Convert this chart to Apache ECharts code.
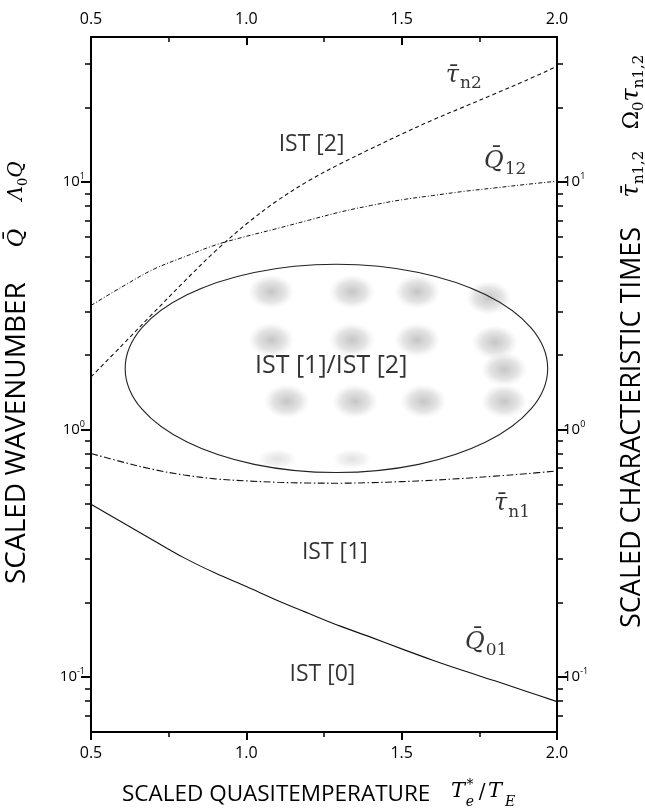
<!DOCTYPE html>
<html>
<head>
<meta charset="utf-8">
<title>IST regimes</title>
<script src="https://cdn.jsdelivr.net/npm/echarts@6/dist/echarts.min.js"></script>
<style>
html,body{margin:0;padding:0;background:#fff;}
#chart{width:645px;height:812px;}
</style>
</head>
<body>
<div id="chart"></div>
<script>
// scaled quasitemperature grid
const temps = [0.5, 0.6, 0.7, 0.8, 0.9, 1.0, 1.1, 1.2, 1.3, 1.4, 1.5, 1.6, 1.7, 1.8, 1.9, 2.0]
// curves
const q01 = [0.499, 0.422, 0.357, 0.303, 0.263, 0.232, 0.204, 0.181, 0.161, 0.145, 0.130, 0.117, 0.106, 0.0966, 0.0877, 0.0796]
const tauN1 = [0.80, 0.74, 0.69, 0.655, 0.632, 0.62, 0.612, 0.608, 0.607, 0.61, 0.616, 0.624, 0.635, 0.648, 0.663, 0.68]
const q12 = [3.17, 3.77, 4.43, 4.98, 5.56, 6.03, 6.49, 7.0, 7.55, 8.03, 8.47, 8.81, 9.16, 9.46, 9.77, 10.07]
const tauN2 = [1.63, 2.19, 2.95, 3.96, 5.25, 6.76, 8.41, 10.1, 11.8, 13.6, 15.6, 17.8, 20.1, 22.7, 25.7, 29.3]
// IST[1]/IST[2] overlap ellipse extents
const ellipseT = [0.61, 1.97]
const ellipseQ = [0.67, 4.65]
// grey stipple blobs inside the ellipse
const blobT = [1.08, 1.34, 1.55, 1.78, 1.08, 1.34, 1.55, 1.80, 1.83, 1.13, 1.35, 1.57, 1.83]
const blobQ = [3.6, 3.6, 3.6, 3.4, 2.3, 2.3, 2.3, 2.25, 1.75, 1.3, 1.3, 1.3, 1.3]
const faintT = [1.10, 1.34]
const faintQ = [0.76, 0.76]
// ticks
const tempTicks = [0.5, 1.0, 1.5, 2.0]
const majorQ = [0.1, 1, 10]
const minorQ = [0.07, 0.08, 0.09, 0.2, 0.3, 0.4, 0.5, 0.6, 0.7, 0.8, 0.9, 2, 3, 4, 5, 6, 7, 8, 9, 20, 30]
// region annotations
const regionNames = ['IST [2]', 'IST [1]/IST [2]', 'IST [1]', 'IST [0]']
const regionT = [1.21, 1.273, 1.285, 1.245]
const regionQ = [14.2, 1.80, 0.318, 0.102]
// curve annotations
const curveNames = ['{m|τ̄}{s|n2}', '{m|Q̄}{s|12}', '{m|τ̄}{s|n1}', '{m|Q̄}{s|01}']
const curveT = [1.70, 1.833, 1.855, 1.772]
const curveQ = [26.9, 12.1, 0.50, 0.138]

const domId = 'chart'
let chart
let option = {}

const sans = '"Open Sans"'
const serif = '"DejaVu Serif"'
const mathRich = {
  m: {fontFamily: serif, fontStyle: 'italic', fontSize: 24, lineHeight: 34, color: '#000', verticalAlign: 'middle'},
  s: {fontFamily: serif, fontSize: 17, lineHeight: 17, color: '#000', verticalAlign: 'bottom', padding: [0, 0, 0, 1]}
}
const powRich = {
  b: {fontFamily: sans, fontSize: 15, lineHeight: 20, color: '#000', verticalAlign: 'middle'},
  e: {fontFamily: sans, fontSize: 9, lineHeight: 10, color: '#000', verticalAlign: 'top'}
}

function zip(xs, ys){
  return xs.map((x, i) => [x, ys[i]])
}

function powLabel(v){
  const e = Math.round(Math.log10(v))
  return '{b|10}{e|' + e + '}'
}

function yAxisPair(pos){
  return [
    {
      type: 'log', logBase: 10, position: pos, min: 0.06, max: 38.5,
      axisLine: {show: true, lineStyle: {color: '#000', width: 2}},
      axisTick: {show: true, inside: false, length: 10, customValues: majorQ, lineStyle: {color: '#000', width: 2}},
      axisLabel: {show: true, customValues: majorQ, formatter: powLabel, rich: powRich, margin: 6},
      splitLine: {show: false}
    },
    {
      type: 'log', logBase: 10, position: pos, min: 0.06, max: 38.5,
      axisLine: {show: false},
      axisTick: {show: true, inside: false, length: 6, customValues: minorQ, lineStyle: {color: '#000', width: 1.5}},
      axisLabel: {show: false},
      splitLine: {show: false}
    }
  ]
}

function xAxisOf(pos){
  return {
    type: 'value', position: pos, min: 0.5, max: 2.0, interval: 0.5,
    axisLine: {show: true, lineStyle: {color: '#000', width: 2}},
    axisTick: {show: true, inside: pos === 'top', length: 8, lineStyle: {color: '#000', width: 2}},
    minorTick: {show: true, splitNumber: 2, length: 5, lineStyle: {color: '#000', width: 1.5}},
    axisLabel: {
      show: true, margin: pos === 'top' ? 10 : 13, fontFamily: sans, fontSize: 16, color: '#000',
      formatter: v => tempTicks.includes(v) ? v.toFixed(1) : ''
    },
    splitLine: {show: false}
  }
}

function curve(values, dash, width){
  return {
    type: 'line', data: zip(temps, values), symbol: 'none', smooth: 0.35, silent: true, z: 4,
    lineStyle: {color: '#111', width: width, type: dash}
  }
}

// ellipse drawn from its data extents
function renderEllipse(params, api){
  const t0 = api.value(0), t1 = api.value(1), q0 = api.value(2), q1 = api.value(3)
  const tMid = (t0 + t1) / 2
  const qMid = Math.sqrt(q0 * q1)
  const pl = api.coord([t0, qMid])
  const pr = api.coord([t1, qMid])
  const pt = api.coord([tMid, q1])
  const pb = api.coord([tMid, q0])
  return {
    type: 'ellipse',
    shape: {cx: (pl[0] + pr[0]) / 2, cy: (pt[1] + pb[1]) / 2, rx: (pr[0] - pl[0]) / 2, ry: (pb[1] - pt[1]) / 2},
    style: {fill: 'none', stroke: '#222', lineWidth: 1.1}
  }
}

function blobColor(alpha){
  return new echarts.graphic.RadialGradient(0.5, 0.5, 0.5, [
    {offset: 0, color: 'rgba(110,110,110,' + alpha + ')'},
    {offset: 0.6, color: 'rgba(140,140,140,' + (alpha * 0.6) + ')'},
    {offset: 1, color: 'rgba(180,180,180,0)'}
  ])
}

function textEl(x, y, text, style, rotate){
  return {
    type: 'text', x: x, y: y, rotation: rotate ? Math.PI / 2 : 0, silent: true,
    style: Object.assign({text: text, fill: '#000', textAlign: 'center', textVerticalAlign: 'middle'}, style)
  }
}

function getOption(){
  const italic = {fontFamily: serif, fontStyle: 'italic', fontSize: 21}
  const small = {fontFamily: serif, fontSize: 14}
  const vRich = {
    o: {fontFamily: serif, fontSize: 22, lineHeight: 30, verticalAlign: 'middle', fill: '#000'},
    m: {fontFamily: serif, fontStyle: 'italic', fontSize: 24, lineHeight: 30, verticalAlign: 'middle', fill: '#000'},
    s: {fontFamily: serif, fontSize: 15, lineHeight: 15, verticalAlign: 'bottom', fill: '#000'}
  }
  option = {
    animation: false,
    backgroundColor: '#fff',
    grid: {left: 91, right: 88, top: 37, bottom: 80},
    xAxis: [xAxisOf('bottom'), xAxisOf('top')],
    yAxis: yAxisPair('left').concat(yAxisPair('right')),
    series: [
      {
        type: 'scatter', data: zip(blobT, blobQ), symbol: 'rect', symbolSize: [46, 34], silent: true, z: 1,
        itemStyle: {color: blobColor(0.5)}
      },
      {
        type: 'scatter', data: zip(faintT, faintQ), symbol: 'rect', symbolSize: [40, 20], silent: true, z: 1,
        itemStyle: {color: blobColor(0.25)}
      },
      {
        type: 'custom', data: [[ellipseT[0], ellipseT[1], ellipseQ[0], ellipseQ[1]]],
        encode: {x: [0, 1], y: [2, 3]}, renderItem: renderEllipse, silent: true, z: 3
      },
      curve(q01, 'solid', 1.1),
      curve(tauN1, [7, 2.5, 1.5, 2.5], 1.1),
      curve(q12, [4, 2, 1, 2], 1),
      curve(tauN2, [4, 3], 1.1),
      {
        type: 'scatter', silent: true, z: 5, symbolSize: 1, itemStyle: {color: 'rgba(0,0,0,0)'},
        data: regionNames.map((n, i) => ({name: n, value: [regionT[i], regionQ[i]]})),
        label: {
          show: true, position: 'inside', fontFamily: sans, fontSize: 23, color: '#000',
          formatter: p => p.dataIndex === 1 ? '{big|' + p.name + '}' : p.name,
          rich: {big: {fontFamily: sans, fontSize: 25, fontWeight: 500, color: '#000'}}
        }
      },
      {
        type: 'scatter', silent: true, z: 5, symbolSize: 1, itemStyle: {color: 'rgba(0,0,0,0)'},
        data: curveNames.map((n, i) => ({name: n, value: [curveT[i], curveQ[i]]})),
        label: {show: true, position: 'inside', formatter: p => p.name, rich: mathRich}
      }
    ],
    graphic: [
      // left title
      textEl(17, 584, 'SCALED WAVENUMBER', {textAlign: 'left', fontFamily: sans, fontSize: 28}, true),
      textEl(17, 238, 'Q̄', {fontFamily: serif, fontStyle: 'italic', fontSize: 23}, true),
      textEl(17, 181, '{m|Λ}{s|0}{m|Q}', {rich: {
        m: {fontFamily: serif, fontStyle: 'italic', fontSize: 20, lineHeight: 26, verticalAlign: 'middle', fill: '#000'},
        s: {fontFamily: serif, fontSize: 13, lineHeight: 13, verticalAlign: 'bottom', fill: '#000'}
      }}, true),
      // right title
      textEl(632, 628, 'SCALED CHARACTERISTIC TIMES', {textAlign: 'left', fontFamily: sans, fontSize: 27}, true),
      textEl(632, 174, '{m|τ̄}{s|n1,2}', {rich: vRich}, true),
      textEl(632, 92, '{o|Ω}{s|0}{m|τ}{s|n1,2}', {rich: vRich}, true),
      // bottom title
      textEl(122, 795, 'SCALED QUASITEMPERATURE', {textAlign: 'left', fontFamily: sans, fontSize: 22.5}),
      textEl(458, 792, 'T', italic),
      textEl(470, 785, '*', {fontFamily: serif, fontSize: 14}),
      textEl(470, 802, 'e', Object.assign({}, small, {fontStyle: 'italic'})),
      textEl(482, 793, '/', {fontFamily: serif, fontSize: 20}),
      textEl(495, 792, 'T', italic),
      textEl(510, 802, 'E', Object.assign({}, small, {fontStyle: 'italic'}))
    ]
  }
}

function initChart(){
  const dom = document.getElementById(domId)
  dom && (chart = echarts.init(dom, null, {renderer: 'canvas'}))
  getOption()
  chart && chart.setOption(option)
}

initChart()
</script>
</body>
</html>
